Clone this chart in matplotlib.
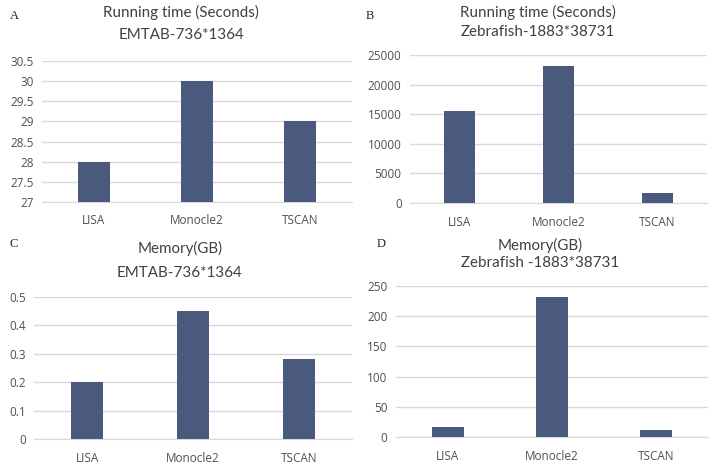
import matplotlib.pyplot as plt

methods = ['LISA', 'Monocle2', 'TSCAN']

time_emtab = [28, 30, 29]
time_zebra = [15600, 23100, 1700]
mem_emtab = [0.2, 0.45, 0.28]
mem_zebra = [16, 231, 11]

barColor = '#4a5a7e'
textColor = '#505050'
titleColor = '#404040'
gridColor = '#d9d9d9'

plt.rcParams['font.family'] = ['Open Sans', 'DejaVu Sans']

fig = plt.figure(figsize=(7.12, 4.65), dpi=100)


def panel(rect, values, ylim, ticks, ticklabels, title, letter, letterPos, titleX, titleY):
    ax = fig.add_axes(rect)
    ax.bar(methods, values, width=0.31, color=barColor, zorder=3)
    ax.set_xlim(-0.5, 2.5)
    ax.set_ylim(*ylim)
    ax.set_yticks(ticks)
    ax.set_yticklabels(ticklabels)
    ax.yaxis.grid(True, color=gridColor, linewidth=1, zorder=0)
    for s in ['top', 'right', 'left']:
        ax.spines[s].set_visible(False)
    ax.spines['bottom'].set_color(gridColor)
    ax.tick_params(length=0, labelsize=8.5, colors=textColor)
    ax.tick_params(axis='x', pad=9)
    ax.tick_params(axis='y', pad=6)
    for t, yy in zip(title, titleY):
        fig.text(titleX, yy, t, ha='center', va='center', fontsize=10.9,
                 family=['Lato', 'DejaVu Sans'], color=titleColor)
    fig.text(letterPos[0], letterPos[1], letter, ha='center', va='center', fontsize=9,
             family='Liberation Serif', color='#222222')
    return ax


panel([0.059, 0.5656, 0.435, 0.303], time_emtab, (27, 30.5),
      [27, 27.5, 28, 28.5, 29, 29.5, 30, 30.5],
      ['27', '27.5', '28', '28.5', '29', '29.5', '30', '30.5'],
      ['Running time (Seconds)', 'EMTAB-736*1364'], 'A',
      (14 / 712, 1 - 16 / 465), 181 / 712, (1 - 12 / 465, 1 - 35 / 465))

panel([0.5758, 0.5634, 0.417, 0.318], time_zebra, (0, 25000),
      [0, 5000, 10000, 15000, 20000, 25000],
      ['0', '5000', '10000', '15000', '20000', '25000'],
      ['Running time (Seconds)', 'Zebrafish-1883*38731'], 'B',
      (370 / 712, 1 - 16 / 465), 538 / 712, (1 - 12 / 465, 1 - 32 / 465))

panel([0.0478, 0.0559, 0.4466, 0.3054], mem_emtab, (0, 0.5),
      [0, 0.1, 0.2, 0.3, 0.4, 0.5],
      ['0', '0.1', '0.2', '0.3', '0.4', '0.5'],
      ['Memory(GB)', 'EMTAB-736*1364'], 'C',
      (14 / 712, 1 - 244 / 465), 180 / 712, (1 - 248 / 465, 1 - 273 / 465))

panel([0.556, 0.0602, 0.438, 0.3247], mem_zebra, (0, 250),
      [0, 50, 100, 150, 200, 250],
      ['0', '50', '100', '150', '200', '250'],
      ['Memory(GB)', 'Zebrafish -1883*38731'], 'D',
      (381 / 712, 1 - 244 / 465), 540 / 712, (1 - 245 / 465, 1 - 263 / 465))

fig.savefig('out.png', dpi=100)
